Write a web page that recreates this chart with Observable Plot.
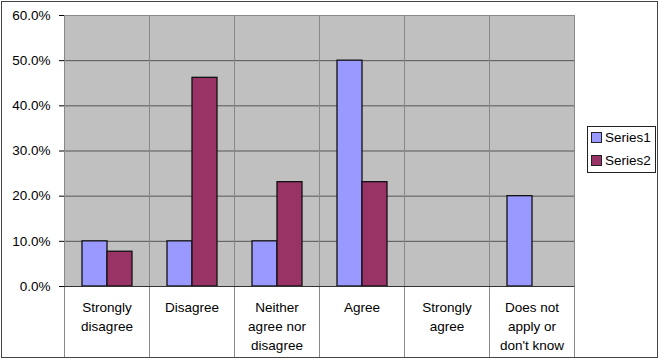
<!DOCTYPE html>
<html>
<head>
<meta charset="utf-8">
<script src="https://cdn.jsdelivr.net/npm/d3@7"></script>
<script src="https://cdn.jsdelivr.net/npm/@observablehq/plot@0.6"></script>
<style>
  html, body { margin: 0; padding: 0; background: #fff; }
  #wrap { position: relative; width: 659px; height: 359px; font-family: "Liberation Sans", Arial, sans-serif; }
  #wrap svg { display: block; outline: 1px solid #444; outline-offset: -2px; }
  #legend { position: absolute; left: 587px; top: 126px; width: 67px; height: 45px; border: 1px solid #222; background: #fff; font-size: 13.5px; }
  #legend .item { position: absolute; left: 3px; display: flex; align-items: center; white-space: nowrap; }
  #legend .sw { width: 9px; height: 9px; border: 1px solid #222; margin-right: 3px; }
</style>
</head>
<body>
<div id="wrap"></div>
<script>
const categories = ["Strongly disagree", "Disagree", "Neither agree nor disagree", "Agree", "Strongly agree", "Does not apply or don't know"];
const categoryLabels = ["Strongly\ndisagree", "Disagree", "Neither\nagree nor\ndisagree", "Agree", "Strongly\nagree", "Does not\napply or\ndon't know"];
const series = ["Series1", "Series2"];
const series1 = [0.10, 0.10, 0.10, 0.50, null, 0.20];
const series2 = [0.077, 0.462, 0.231, 0.231, null, null];
const colors = ["#9999ff", "#993366"];
const yTicks = [0, 0.1, 0.2, 0.3, 0.4, 0.5, 0.6];

const rows = [];
categories.forEach((c, i) => {
  [series1, series2].forEach((s, j) => {
    if (s[i] != null) rows.push({cat: c, series: series[j], value: s[i]});
  });
});
const labelOf = new Map(categories.map((c, i) => [c, categoryLabels[i]]));

const chart = Plot.plot({
  width: 659,
  height: 359,
  marginLeft: 62,
  marginRight: 83,
  marginTop: 15,
  marginBottom: 73,
  style: {fontFamily: "Liberation Sans, Arial, sans-serif", fontSize: "13.5px", color: "#000", background: "transparent"},
  fx: {domain: categories, padding: 0, label: null},
  x: {domain: series, paddingInner: 0, paddingOuter: 0.68, axis: null},
  y: {domain: [0, 0.6], label: null},
  color: {domain: series, range: colors},
  marks: [
    Plot.frame({fill: "#c0c0c0"}),
    Plot.gridY({ticks: yTicks, stroke: "#555", strokeOpacity: 1}),
    Plot.barY(rows, {fx: "cat", x: "series", y: "value", fill: "series", stroke: "#111", strokeWidth: 1.3}),
    Plot.frame({stroke: "#888"}),
    Plot.frame({anchor: "left", stroke: "#888", insetBottom: -71}),
    Plot.frame({anchor: "right", stroke: "#888", insetBottom: -71}),
    Plot.ruleY(categories, {fx: d => d, y: () => 0, stroke: "#333"}),
    Plot.axisY({ticks: yTicks, tickFormat: d3.format(".1%"), tickSize: 5, tickPadding: 9, label: null}),
    Plot.axisFx({anchor: "bottom", tickFormat: d => labelOf.get(d), tickSize: 0, tickPadding: 12, lineHeight: 1.4, label: null})
  ]
});
const wrap = document.getElementById("wrap");
wrap.appendChild(chart);

const legend = document.createElement("div");
legend.id = "legend";
series.forEach((s, i) => {
  const item = document.createElement("div");
  item.className = "item";
  item.style.top = (i === 0 ? 3 : 26) + "px";
  const sw = document.createElement("span");
  sw.className = "sw";
  sw.style.background = colors[i];
  item.appendChild(sw);
  item.appendChild(document.createTextNode(s));
  legend.appendChild(item);
});
wrap.appendChild(legend);
</script>
</body>
</html>
